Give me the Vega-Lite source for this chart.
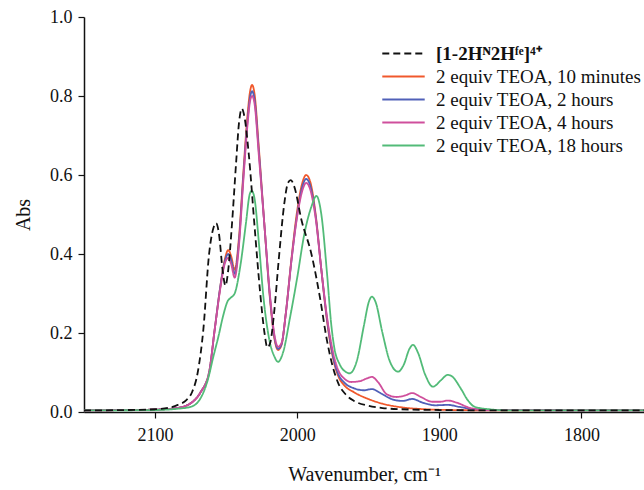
{
  "$schema": "https://vega.github.io/schema/vega-lite/v6.json",
  "autosize": "none",
  "width": 560,
  "height": 395,
  "padding": {"left": 84, "top": 17, "right": 0, "bottom": 78},
  "background": "#ffffff",
  "config": {
    "view": {"stroke": null},
    "font": "Liberation Serif",
    "axis": {"labelFont": "Liberation Serif", "titleFont": "Liberation Serif", "labelColor": "#111", "titleColor": "#111", "domainColor": "#111", "tickColor": "#111", "grid": false, "domainWidth": 1.5, "tickWidth": 1.2, "tickSize": 6, "labelFontSize": 18, "titleFontSize": 20, "titleFontWeight": "normal"}
  },
  "datasets": {
    "spec": [
      {"s": "2 equiv TEOA, 10 minutes", "w": 2150, "a": 0.004}, {"s": "2 equiv TEOA, 10 minutes", "w": 2100, "a": 0.006}, {"s": "2 equiv TEOA, 10 minutes", "w": 2085, "a": 0.01}, {"s": "2 equiv TEOA, 10 minutes", "w": 2075, "a": 0.022}, {"s": "2 equiv TEOA, 10 minutes", "w": 2068, "a": 0.05}, {"s": "2 equiv TEOA, 10 minutes", "w": 2062, "a": 0.1}, {"s": "2 equiv TEOA, 10 minutes", "w": 2058, "a": 0.21}, {"s": "2 equiv TEOA, 10 minutes", "w": 2054, "a": 0.32}, {"s": "2 equiv TEOA, 10 minutes", "w": 2051, "a": 0.385}, {"s": "2 equiv TEOA, 10 minutes", "w": 2048.5, "a": 0.41}, {"s": "2 equiv TEOA, 10 minutes", "w": 2046.5, "a": 0.395}, {"s": "2 equiv TEOA, 10 minutes", "w": 2044, "a": 0.36}, {"s": "2 equiv TEOA, 10 minutes", "w": 2041, "a": 0.44}, {"s": "2 equiv TEOA, 10 minutes", "w": 2038, "a": 0.6}, {"s": "2 equiv TEOA, 10 minutes", "w": 2035, "a": 0.75}, {"s": "2 equiv TEOA, 10 minutes", "w": 2033, "a": 0.815}, {"s": "2 equiv TEOA, 10 minutes", "w": 2031.7, "a": 0.828}, {"s": "2 equiv TEOA, 10 minutes", "w": 2030, "a": 0.805}, {"s": "2 equiv TEOA, 10 minutes", "w": 2027, "a": 0.67}, {"s": "2 equiv TEOA, 10 minutes", "w": 2023, "a": 0.47}, {"s": "2 equiv TEOA, 10 minutes", "w": 2019, "a": 0.28}, {"s": "2 equiv TEOA, 10 minutes", "w": 2016, "a": 0.185}, {"s": "2 equiv TEOA, 10 minutes", "w": 2013.5, "a": 0.157}, {"s": "2 equiv TEOA, 10 minutes", "w": 2011, "a": 0.17}, {"s": "2 equiv TEOA, 10 minutes", "w": 2008, "a": 0.25}, {"s": "2 equiv TEOA, 10 minutes", "w": 2004, "a": 0.39}, {"s": "2 equiv TEOA, 10 minutes", "w": 2000, "a": 0.51}, {"s": "2 equiv TEOA, 10 minutes", "w": 1996, "a": 0.585}, {"s": "2 equiv TEOA, 10 minutes", "w": 1993.7, "a": 0.6}, {"s": "2 equiv TEOA, 10 minutes", "w": 1991, "a": 0.585}, {"s": "2 equiv TEOA, 10 minutes", "w": 1987, "a": 0.5}, {"s": "2 equiv TEOA, 10 minutes", "w": 1983, "a": 0.36}, {"s": "2 equiv TEOA, 10 minutes", "w": 1979, "a": 0.23}, {"s": "2 equiv TEOA, 10 minutes", "w": 1975, "a": 0.14}, {"s": "2 equiv TEOA, 10 minutes", "w": 1971, "a": 0.09}, {"s": "2 equiv TEOA, 10 minutes", "w": 1967, "a": 0.068}, {"s": "2 equiv TEOA, 10 minutes", "w": 1960, "a": 0.05}, {"s": "2 equiv TEOA, 10 minutes", "w": 1950, "a": 0.033}, {"s": "2 equiv TEOA, 10 minutes", "w": 1940, "a": 0.021}, {"s": "2 equiv TEOA, 10 minutes", "w": 1927, "a": 0.012}, {"s": "2 equiv TEOA, 10 minutes", "w": 1910, "a": 0.007}, {"s": "2 equiv TEOA, 10 minutes", "w": 1890, "a": 0.005}, {"s": "2 equiv TEOA, 10 minutes", "w": 1850, "a": 0.004}, {"s": "2 equiv TEOA, 10 minutes", "w": 1756, "a": 0.004},

      {"s": "2 equiv TEOA, 2 hours", "w": 2150, "a": 0.004}, {"s": "2 equiv TEOA, 2 hours", "w": 2100, "a": 0.006}, {"s": "2 equiv TEOA, 2 hours", "w": 2085, "a": 0.01}, {"s": "2 equiv TEOA, 2 hours", "w": 2075, "a": 0.022}, {"s": "2 equiv TEOA, 2 hours", "w": 2068, "a": 0.05}, {"s": "2 equiv TEOA, 2 hours", "w": 2062, "a": 0.1}, {"s": "2 equiv TEOA, 2 hours", "w": 2058, "a": 0.21}, {"s": "2 equiv TEOA, 2 hours", "w": 2054, "a": 0.32}, {"s": "2 equiv TEOA, 2 hours", "w": 2051, "a": 0.38}, {"s": "2 equiv TEOA, 2 hours", "w": 2048.5, "a": 0.4}, {"s": "2 equiv TEOA, 2 hours", "w": 2046.5, "a": 0.385}, {"s": "2 equiv TEOA, 2 hours", "w": 2044, "a": 0.35}, {"s": "2 equiv TEOA, 2 hours", "w": 2041, "a": 0.43}, {"s": "2 equiv TEOA, 2 hours", "w": 2038, "a": 0.59}, {"s": "2 equiv TEOA, 2 hours", "w": 2035, "a": 0.735}, {"s": "2 equiv TEOA, 2 hours", "w": 2033, "a": 0.8}, {"s": "2 equiv TEOA, 2 hours", "w": 2031.7, "a": 0.812}, {"s": "2 equiv TEOA, 2 hours", "w": 2030, "a": 0.79}, {"s": "2 equiv TEOA, 2 hours", "w": 2027, "a": 0.66}, {"s": "2 equiv TEOA, 2 hours", "w": 2023, "a": 0.47}, {"s": "2 equiv TEOA, 2 hours", "w": 2019, "a": 0.285}, {"s": "2 equiv TEOA, 2 hours", "w": 2016, "a": 0.19}, {"s": "2 equiv TEOA, 2 hours", "w": 2013.5, "a": 0.16}, {"s": "2 equiv TEOA, 2 hours", "w": 2011, "a": 0.172}, {"s": "2 equiv TEOA, 2 hours", "w": 2008, "a": 0.25}, {"s": "2 equiv TEOA, 2 hours", "w": 2004, "a": 0.385}, {"s": "2 equiv TEOA, 2 hours", "w": 2000, "a": 0.5}, {"s": "2 equiv TEOA, 2 hours", "w": 1996, "a": 0.575}, {"s": "2 equiv TEOA, 2 hours", "w": 1993.7, "a": 0.59}, {"s": "2 equiv TEOA, 2 hours", "w": 1991, "a": 0.575}, {"s": "2 equiv TEOA, 2 hours", "w": 1987, "a": 0.495}, {"s": "2 equiv TEOA, 2 hours", "w": 1983, "a": 0.36}, {"s": "2 equiv TEOA, 2 hours", "w": 1979, "a": 0.235}, {"s": "2 equiv TEOA, 2 hours", "w": 1975, "a": 0.145}, {"s": "2 equiv TEOA, 2 hours", "w": 1971, "a": 0.095}, {"s": "2 equiv TEOA, 2 hours", "w": 1967, "a": 0.075}, {"s": "2 equiv TEOA, 2 hours", "w": 1960, "a": 0.06}, {"s": "2 equiv TEOA, 2 hours", "w": 1953, "a": 0.055}, {"s": "2 equiv TEOA, 2 hours", "w": 1947.5, "a": 0.058}, {"s": "2 equiv TEOA, 2 hours", "w": 1941, "a": 0.047}, {"s": "2 equiv TEOA, 2 hours", "w": 1933, "a": 0.032}, {"s": "2 equiv TEOA, 2 hours", "w": 1926, "a": 0.028}, {"s": "2 equiv TEOA, 2 hours", "w": 1919, "a": 0.033}, {"s": "2 equiv TEOA, 2 hours", "w": 1912, "a": 0.024}, {"s": "2 equiv TEOA, 2 hours", "w": 1903, "a": 0.017}, {"s": "2 equiv TEOA, 2 hours", "w": 1894, "a": 0.018}, {"s": "2 equiv TEOA, 2 hours", "w": 1886, "a": 0.013}, {"s": "2 equiv TEOA, 2 hours", "w": 1875, "a": 0.007}, {"s": "2 equiv TEOA, 2 hours", "w": 1860, "a": 0.005}, {"s": "2 equiv TEOA, 2 hours", "w": 1756, "a": 0.004},

      {"s": "2 equiv TEOA, 4 hours", "w": 2150, "a": 0.004}, {"s": "2 equiv TEOA, 4 hours", "w": 2100, "a": 0.006}, {"s": "2 equiv TEOA, 4 hours", "w": 2085, "a": 0.01}, {"s": "2 equiv TEOA, 4 hours", "w": 2075, "a": 0.022}, {"s": "2 equiv TEOA, 4 hours", "w": 2068, "a": 0.05}, {"s": "2 equiv TEOA, 4 hours", "w": 2062, "a": 0.1}, {"s": "2 equiv TEOA, 4 hours", "w": 2058, "a": 0.21}, {"s": "2 equiv TEOA, 4 hours", "w": 2054, "a": 0.315}, {"s": "2 equiv TEOA, 4 hours", "w": 2051, "a": 0.375}, {"s": "2 equiv TEOA, 4 hours", "w": 2048.5, "a": 0.39}, {"s": "2 equiv TEOA, 4 hours", "w": 2046.5, "a": 0.375}, {"s": "2 equiv TEOA, 4 hours", "w": 2044, "a": 0.34}, {"s": "2 equiv TEOA, 4 hours", "w": 2041, "a": 0.42}, {"s": "2 equiv TEOA, 4 hours", "w": 2038, "a": 0.58}, {"s": "2 equiv TEOA, 4 hours", "w": 2035, "a": 0.725}, {"s": "2 equiv TEOA, 4 hours", "w": 2033, "a": 0.79}, {"s": "2 equiv TEOA, 4 hours", "w": 2031.7, "a": 0.8}, {"s": "2 equiv TEOA, 4 hours", "w": 2030, "a": 0.78}, {"s": "2 equiv TEOA, 4 hours", "w": 2027, "a": 0.65}, {"s": "2 equiv TEOA, 4 hours", "w": 2023, "a": 0.47}, {"s": "2 equiv TEOA, 4 hours", "w": 2019, "a": 0.29}, {"s": "2 equiv TEOA, 4 hours", "w": 2016, "a": 0.195}, {"s": "2 equiv TEOA, 4 hours", "w": 2013.5, "a": 0.165}, {"s": "2 equiv TEOA, 4 hours", "w": 2011, "a": 0.175}, {"s": "2 equiv TEOA, 4 hours", "w": 2008, "a": 0.25}, {"s": "2 equiv TEOA, 4 hours", "w": 2004, "a": 0.385}, {"s": "2 equiv TEOA, 4 hours", "w": 2000, "a": 0.495}, {"s": "2 equiv TEOA, 4 hours", "w": 1996, "a": 0.565}, {"s": "2 equiv TEOA, 4 hours", "w": 1993.7, "a": 0.58}, {"s": "2 equiv TEOA, 4 hours", "w": 1991, "a": 0.565}, {"s": "2 equiv TEOA, 4 hours", "w": 1987, "a": 0.49}, {"s": "2 equiv TEOA, 4 hours", "w": 1983, "a": 0.36}, {"s": "2 equiv TEOA, 4 hours", "w": 1979, "a": 0.24}, {"s": "2 equiv TEOA, 4 hours", "w": 1975, "a": 0.155}, {"s": "2 equiv TEOA, 4 hours", "w": 1971, "a": 0.105}, {"s": "2 equiv TEOA, 4 hours", "w": 1967, "a": 0.085}, {"s": "2 equiv TEOA, 4 hours", "w": 1962, "a": 0.076}, {"s": "2 equiv TEOA, 4 hours", "w": 1956, "a": 0.078}, {"s": "2 equiv TEOA, 4 hours", "w": 1951, "a": 0.085}, {"s": "2 equiv TEOA, 4 hours", "w": 1947.5, "a": 0.089}, {"s": "2 equiv TEOA, 4 hours", "w": 1943, "a": 0.075}, {"s": "2 equiv TEOA, 4 hours", "w": 1937, "a": 0.045}, {"s": "2 equiv TEOA, 4 hours", "w": 1930, "a": 0.038}, {"s": "2 equiv TEOA, 4 hours", "w": 1924, "a": 0.042}, {"s": "2 equiv TEOA, 4 hours", "w": 1919, "a": 0.048}, {"s": "2 equiv TEOA, 4 hours", "w": 1913, "a": 0.038}, {"s": "2 equiv TEOA, 4 hours", "w": 1905, "a": 0.026}, {"s": "2 equiv TEOA, 4 hours", "w": 1899, "a": 0.026}, {"s": "2 equiv TEOA, 4 hours", "w": 1894, "a": 0.029}, {"s": "2 equiv TEOA, 4 hours", "w": 1888, "a": 0.024}, {"s": "2 equiv TEOA, 4 hours", "w": 1878, "a": 0.01}, {"s": "2 equiv TEOA, 4 hours", "w": 1865, "a": 0.005}, {"s": "2 equiv TEOA, 4 hours", "w": 1756, "a": 0.004},

      {"s": "2 equiv TEOA, 18 hours", "w": 2150, "a": 0.004}, {"s": "2 equiv TEOA, 18 hours", "w": 2100, "a": 0.005}, {"s": "2 equiv TEOA, 18 hours", "w": 2085, "a": 0.008}, {"s": "2 equiv TEOA, 18 hours", "w": 2075, "a": 0.013}, {"s": "2 equiv TEOA, 18 hours", "w": 2068, "a": 0.035}, {"s": "2 equiv TEOA, 18 hours", "w": 2063, "a": 0.08}, {"s": "2 equiv TEOA, 18 hours", "w": 2059, "a": 0.14}, {"s": "2 equiv TEOA, 18 hours", "w": 2055.5, "a": 0.19}, {"s": "2 equiv TEOA, 18 hours", "w": 2052, "a": 0.245}, {"s": "2 equiv TEOA, 18 hours", "w": 2049, "a": 0.28}, {"s": "2 equiv TEOA, 18 hours", "w": 2046.5, "a": 0.29}, {"s": "2 equiv TEOA, 18 hours", "w": 2044, "a": 0.3}, {"s": "2 equiv TEOA, 18 hours", "w": 2040, "a": 0.37}, {"s": "2 equiv TEOA, 18 hours", "w": 2036, "a": 0.48}, {"s": "2 equiv TEOA, 18 hours", "w": 2033.5, "a": 0.55}, {"s": "2 equiv TEOA, 18 hours", "w": 2032, "a": 0.56}, {"s": "2 equiv TEOA, 18 hours", "w": 2030, "a": 0.54}, {"s": "2 equiv TEOA, 18 hours", "w": 2027, "a": 0.43}, {"s": "2 equiv TEOA, 18 hours", "w": 2024, "a": 0.3}, {"s": "2 equiv TEOA, 18 hours", "w": 2020, "a": 0.19}, {"s": "2 equiv TEOA, 18 hours", "w": 2016, "a": 0.14}, {"s": "2 equiv TEOA, 18 hours", "w": 2013.5, "a": 0.127}, {"s": "2 equiv TEOA, 18 hours", "w": 2010, "a": 0.15}, {"s": "2 equiv TEOA, 18 hours", "w": 2005, "a": 0.24}, {"s": "2 equiv TEOA, 18 hours", "w": 2000, "a": 0.34}, {"s": "2 equiv TEOA, 18 hours", "w": 1995, "a": 0.45}, {"s": "2 equiv TEOA, 18 hours", "w": 1990, "a": 0.52}, {"s": "2 equiv TEOA, 18 hours", "w": 1986.5, "a": 0.547}, {"s": "2 equiv TEOA, 18 hours", "w": 1983, "a": 0.5}, {"s": "2 equiv TEOA, 18 hours", "w": 1979, "a": 0.35}, {"s": "2 equiv TEOA, 18 hours", "w": 1976, "a": 0.22}, {"s": "2 equiv TEOA, 18 hours", "w": 1974, "a": 0.165}, {"s": "2 equiv TEOA, 18 hours", "w": 1970, "a": 0.12}, {"s": "2 equiv TEOA, 18 hours", "w": 1966, "a": 0.102}, {"s": "2 equiv TEOA, 18 hours", "w": 1963, "a": 0.098}, {"s": "2 equiv TEOA, 18 hours", "w": 1958, "a": 0.13}, {"s": "2 equiv TEOA, 18 hours", "w": 1953, "a": 0.22}, {"s": "2 equiv TEOA, 18 hours", "w": 1949.5, "a": 0.28}, {"s": "2 equiv TEOA, 18 hours", "w": 1947.5, "a": 0.292}, {"s": "2 equiv TEOA, 18 hours", "w": 1945, "a": 0.28}, {"s": "2 equiv TEOA, 18 hours", "w": 1940, "a": 0.2}, {"s": "2 equiv TEOA, 18 hours", "w": 1935, "a": 0.13}, {"s": "2 equiv TEOA, 18 hours", "w": 1929, "a": 0.102}, {"s": "2 equiv TEOA, 18 hours", "w": 1925, "a": 0.12}, {"s": "2 equiv TEOA, 18 hours", "w": 1921, "a": 0.16}, {"s": "2 equiv TEOA, 18 hours", "w": 1918.5, "a": 0.17}, {"s": "2 equiv TEOA, 18 hours", "w": 1915, "a": 0.15}, {"s": "2 equiv TEOA, 18 hours", "w": 1910, "a": 0.095}, {"s": "2 equiv TEOA, 18 hours", "w": 1904.5, "a": 0.064}, {"s": "2 equiv TEOA, 18 hours", "w": 1899, "a": 0.08}, {"s": "2 equiv TEOA, 18 hours", "w": 1894, "a": 0.094}, {"s": "2 equiv TEOA, 18 hours", "w": 1891, "a": 0.09}, {"s": "2 equiv TEOA, 18 hours", "w": 1885, "a": 0.06}, {"s": "2 equiv TEOA, 18 hours", "w": 1880, "a": 0.03}, {"s": "2 equiv TEOA, 18 hours", "w": 1875, "a": 0.013}, {"s": "2 equiv TEOA, 18 hours", "w": 1865, "a": 0.007}, {"s": "2 equiv TEOA, 18 hours", "w": 1850, "a": 0.004}, {"s": "2 equiv TEOA, 18 hours", "w": 1756, "a": 0.004},

      {"s": "[1-2Hᴺ2Hᶠᵉ]⁴⁺", "w": 2150, "a": 0.004}, {"s": "[1-2Hᴺ2Hᶠᵉ]⁴⁺", "w": 2120, "a": 0.005}, {"s": "[1-2Hᴺ2Hᶠᵉ]⁴⁺", "w": 2100, "a": 0.007}, {"s": "[1-2Hᴺ2Hᶠᵉ]⁴⁺", "w": 2090, "a": 0.011}, {"s": "[1-2Hᴺ2Hᶠᵉ]⁴⁺", "w": 2084, "a": 0.018}, {"s": "[1-2Hᴺ2Hᶠᵉ]⁴⁺", "w": 2078, "a": 0.03}, {"s": "[1-2Hᴺ2Hᶠᵉ]⁴⁺", "w": 2074, "a": 0.05}, {"s": "[1-2Hᴺ2Hᶠᵉ]⁴⁺", "w": 2070, "a": 0.1}, {"s": "[1-2Hᴺ2Hᶠᵉ]⁴⁺", "w": 2066, "a": 0.21}, {"s": "[1-2Hᴺ2Hᶠᵉ]⁴⁺", "w": 2062, "a": 0.4}, {"s": "[1-2Hᴺ2Hᶠᵉ]⁴⁺", "w": 2059, "a": 0.465}, {"s": "[1-2Hᴺ2Hᶠᵉ]⁴⁺", "w": 2057, "a": 0.478}, {"s": "[1-2Hᴺ2Hᶠᵉ]⁴⁺", "w": 2055, "a": 0.45}, {"s": "[1-2Hᴺ2Hᶠᵉ]⁴⁺", "w": 2052.5, "a": 0.36}, {"s": "[1-2Hᴺ2Hᶠᵉ]⁴⁺", "w": 2050.5, "a": 0.32}, {"s": "[1-2Hᴺ2Hᶠᵉ]⁴⁺", "w": 2048.5, "a": 0.36}, {"s": "[1-2Hᴺ2Hᶠᵉ]⁴⁺", "w": 2046, "a": 0.47}, {"s": "[1-2Hᴺ2Hᶠᵉ]⁴⁺", "w": 2043, "a": 0.63}, {"s": "[1-2Hᴺ2Hᶠᵉ]⁴⁺", "w": 2041, "a": 0.73}, {"s": "[1-2Hᴺ2Hᶠᵉ]⁴⁺", "w": 2039, "a": 0.768}, {"s": "[1-2Hᴺ2Hᶠᵉ]⁴⁺", "w": 2037, "a": 0.745}, {"s": "[1-2Hᴺ2Hᶠᵉ]⁴⁺", "w": 2034, "a": 0.65}, {"s": "[1-2Hᴺ2Hᶠᵉ]⁴⁺", "w": 2030, "a": 0.47}, {"s": "[1-2Hᴺ2Hᶠᵉ]⁴⁺", "w": 2026, "a": 0.3}, {"s": "[1-2Hᴺ2Hᶠᵉ]⁴⁺", "w": 2023, "a": 0.2}, {"s": "[1-2Hᴺ2Hᶠᵉ]⁴⁺", "w": 2021, "a": 0.163}, {"s": "[1-2Hᴺ2Hᶠᵉ]⁴⁺", "w": 2019, "a": 0.175}, {"s": "[1-2Hᴺ2Hᶠᵉ]⁴⁺", "w": 2016, "a": 0.26}, {"s": "[1-2Hᴺ2Hᶠᵉ]⁴⁺", "w": 2013, "a": 0.385}, {"s": "[1-2Hᴺ2Hᶠᵉ]⁴⁺", "w": 2009, "a": 0.53}, {"s": "[1-2Hᴺ2Hᶠᵉ]⁴⁺", "w": 2006.5, "a": 0.58}, {"s": "[1-2Hᴺ2Hᶠᵉ]⁴⁺", "w": 2004.5, "a": 0.587}, {"s": "[1-2Hᴺ2Hᶠᵉ]⁴⁺", "w": 2002, "a": 0.57}, {"s": "[1-2Hᴺ2Hᶠᵉ]⁴⁺", "w": 1997, "a": 0.486}, {"s": "[1-2Hᴺ2Hᶠᵉ]⁴⁺", "w": 1990, "a": 0.4}, {"s": "[1-2Hᴺ2Hᶠᵉ]⁴⁺", "w": 1984, "a": 0.29}, {"s": "[1-2Hᴺ2Hᶠᵉ]⁴⁺", "w": 1979, "a": 0.18}, {"s": "[1-2Hᴺ2Hᶠᵉ]⁴⁺", "w": 1975, "a": 0.115}, {"s": "[1-2Hᴺ2Hᶠᵉ]⁴⁺", "w": 1971, "a": 0.072}, {"s": "[1-2Hᴺ2Hᶠᵉ]⁴⁺", "w": 1966, "a": 0.045}, {"s": "[1-2Hᴺ2Hᶠᵉ]⁴⁺", "w": 1960, "a": 0.028}, {"s": "[1-2Hᴺ2Hᶠᵉ]⁴⁺", "w": 1950, "a": 0.016}, {"s": "[1-2Hᴺ2Hᶠᵉ]⁴⁺", "w": 1940, "a": 0.01}, {"s": "[1-2Hᴺ2Hᶠᵉ]⁴⁺", "w": 1927, "a": 0.007}, {"s": "[1-2Hᴺ2Hᶠᵉ]⁴⁺", "w": 1900, "a": 0.005}, {"s": "[1-2Hᴺ2Hᶠᵉ]⁴⁺", "w": 1850, "a": 0.004}, {"s": "[1-2Hᴺ2Hᶠᵉ]⁴⁺", "w": 1756, "a": 0.004}
    ]
  },
  "layer": [
    {
      "data": {"name": "spec"},
      "mark": {"type": "line", "interpolate": "monotone", "strokeWidth": 1.8, "clip": true},
      "encoding": {
        "x": {"field": "w", "type": "quantitative", "scale": {"domain": [1756, 2150], "reverse": true, "nice": false, "zero": false},
          "axis": {"values": [2100, 2000, 1900, 1800], "title": "Wavenumber, cm⁻¹", "titlePadding": 20, "labelPadding": 8, "format": "d"}},
        "y": {"field": "a", "type": "quantitative", "scale": {"domain": [0, 1], "nice": false},
          "axis": {"values": [0, 0.2, 0.4, 0.6, 0.8, 1.0], "format": ".1f", "title": "Abs", "titlePadding": 16, "labelPadding": 6}},
        "color": {"field": "s", "type": "nominal",
          "scale": {"domain": ["[1-2Hᴺ2Hᶠᵉ]⁴⁺", "2 equiv TEOA, 10 minutes", "2 equiv TEOA, 2 hours", "2 equiv TEOA, 4 hours", "2 equiv TEOA, 18 hours"],
                    "range": ["#111111", "#f0582c", "#5060b8", "#cf4f9c", "#52bb78"]},
          "legend": {"title": null, "orient": "none", "legendX": 310, "legendY": 27, "padding": 0, "symbolType": "M-3,0H3", "symbolSize": 200, "symbolStrokeWidth": 2, "labelFontSize": 19, "labelFont": "Liberation Serif", "labelColor": "#111", "labelLimit": 400, "rowPadding": 3, "labelOffset": 23,
            "encode": {"labels": {"update": {"fontWeight": {"signal": "datum.index === 0 ? 'bold' : 'normal'"}}}}}},
        "strokeDash": {"field": "s", "type": "nominal",
          "scale": {"domain": ["[1-2Hᴺ2Hᶠᵉ]⁴⁺", "2 equiv TEOA, 10 minutes", "2 equiv TEOA, 2 hours", "2 equiv TEOA, 4 hours", "2 equiv TEOA, 18 hours"],
                    "range": [[7, 4], [1, 0], [1, 0], [1, 0], [1, 0]]}}
      }
    },
    {
      "mark": {"type": "rule", "color": "#111", "strokeWidth": 1.5},
      "encoding": {"y": {"datum": 1}}
    }
  ]
}
